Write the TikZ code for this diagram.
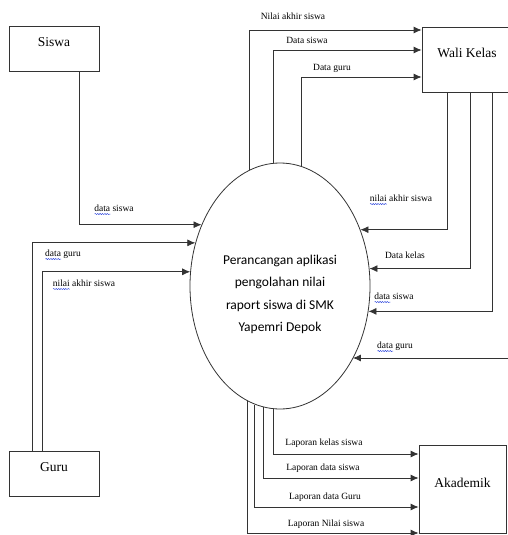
\documentclass[tikz,border=0pt]{standalone}
\usepackage{fontspec}
\setmainfont{Liberation Serif}
\newfontfamily\procfont{Carlito}
\usepackage{xcolor}
\definecolor{darkgray}{HTML}{333333}
\definecolor{squig}{RGB}{45,70,220}
\usepackage{tikz}
\usetikzlibrary{shapes.geometric,arrows.meta,positioning,decorations.pathmorphing}
\newsavebox\wavebox
\newlength\wavelen
\newcommand\spellwave[1]{\sbox\wavebox{#1}\setlength\wavelen{\wd\wavebox}\leavevmode\rlap{\tikz[baseline=0pt,x=1pt,y=1pt]\draw[squig,line width=0.45pt,decorate,decoration={snake,amplitude=0.6pt,segment length=2.4pt}] (0,-2.3) -- (\wavelen,-2.3);}\usebox\wavebox}

\begin{document}
\begin{tikzpicture}[x = 1pt, y = -1pt, entity/.style={
    	rectangle, draw = darkgray, line width = 0.8pt, inner sep = 0pt,
    	text height = 9pt, text depth = 13pt, font = \fontsize{13.5}{15}\selectfont},
    	process/.style={ellipse, draw = darkgray, line width = 0.8pt, inner sep = 0pt,
    	minimum width = 180pt, minimum height = 246pt, align = center,
    	font = \procfont\fontsize{13.5}{22.6}\selectfont},
    	flow/.style={draw = darkgray, line width = 0.8pt, -{Latex[length=8pt,width=7pt]}},
    	lbl/.style={inner sep = 0pt, font = \fontsize{9.5}{11}\selectfont}]
    	\useasboundingbox (0,0) rectangle (508,535);
    	\node (siswa) [entity, minimum width = 90pt, minimum height = 45pt] at (54,48.5) {Siswa};
    	\node (guru) [entity, minimum width = 90pt, minimum height = 45pt] at (54,473.5) {Guru};
    	\node (wali) [entity, minimum width = 90pt, minimum height = 65pt] at (467,59.5) {Wali Kelas};
    	\node (akad) [entity, minimum width = 87pt, minimum height = 88pt] at (462.5,489) {Akademik};
    	\node (proc) [process] at (280,286) {\rule{0pt}{26pt}Perancangan aplikasi\\ pengolahan nilai\\ raport siswa di SMK\\ Yapemri Depok};
    	\coordinate (dgin) at (508,358);
    	\draw[flow] (siswa.south -| 79,0) |- (proc.142);
    	\draw[flow] (guru.north -| 32,0) |- (proc.153);
    	\draw[flow] (guru.north -| 42,0) |- (proc.171.7);
    	\draw[flow] (proc.105.5) |- (wali.west |- 0,30);
    	\draw[flow] (proc.93.7) |- (wali.west |- 0,50);
    	\draw[flow] (proc.80) |- (wali.west |- 0,77);
    	\draw[flow] (wali.south -| 447,0) |- (proc.35);
    	\draw[flow] (wali.south -| 470,0) |- (proc.11.4);
    	\draw[flow] (wali.south -| 492,0) |- (proc.344.2);
    	\draw[flow] (dgin) -- (dgin -| proc.315.4);
    	\draw[flow] (proc.267.2) |- (akad.west |- 0,454);
    	\draw[flow] (proc.262.95) |- (akad.west |- 0,478);
    	\draw[flow] (proc.258.55) |- (akad.west |- 0,507);
    	\draw[flow] (proc.254.97) |- (akad.west |- 0,533);
    	\node (lsiswa) [lbl] at (114,210) {\spellwave{data} siswa};
    	\node (lguru) [lbl] at (63,255) {\spellwave{data} guru};
    	\node (lnilai) [lbl] at (84,285) {\spellwave{nilai} akhir siswa};
    	\node (wnilai) [lbl] at (293,16) {Nilai akhir siswa};
    	\node (wsiswa) [lbl] at (307,40) {Data siswa};
    	\node (wguru) [lbl] at (332,68) {Data guru};
    	\node (rnilai) [lbl] at (401,200) {\spellwave{nilai} akhir siswa};
    	\node (rkelas) [lbl] at (405,255) {Data kelas};
    	\node (rsiswa) [lbl] at (394,298) {\spellwave{data} siswa};
    	\node (rguru) [lbl] at (395,347) {\spellwave{data} guru};
    	\node (akelas) [lbl] at (324,443) {Laporan kelas siswa};
    	\node (asiswa) [lbl] at (323,468) {Laporan data siswa};
    	\node (aguru) [lbl] at (325,497) {Laporan data Guru};
    	\node (anilai) [lbl] at (326,524) {Laporan Nilai siswa};
	\end{tikzpicture}
\end{document}
